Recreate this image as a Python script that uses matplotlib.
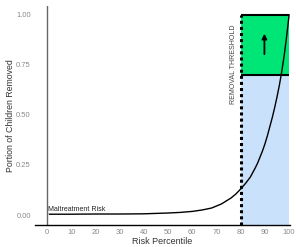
import matplotlib.pyplot as plt

plt.rcParams['font.family'] = ['Liberation Sans', 'DejaVu Sans']

# maltreatment risk curve
risk_pct = [1, 10, 20, 30, 40, 50, 55, 60, 64, 68, 72, 76, 78, 80, 82, 84,
            86, 87, 88, 89, 90, 91, 92, 93, 94, 95, 96, 97, 98, 99, 100]
removed = [0.004, 0.004, 0.005, 0.005, 0.006, 0.010, 0.013, 0.018, 0.025,
           0.035, 0.055, 0.085, 0.105, 0.13, 0.158, 0.19, 0.235, 0.26, 0.29,
           0.32, 0.355, 0.395, 0.44, 0.485, 0.535, 0.59, 0.65, 0.72, 0.80,
           0.895, 1.0]

threshold = 80
cut_level = 0.7
x_ticks = [0, 10, 20, 30, 40, 50, 60, 70, 80, 90, 100]
y_ticks = [0.0, 0.25, 0.5, 0.75, 1.0]

fig = plt.figure(figsize=(2.96, 2.47), dpi=100)
ax = fig.add_axes([0.118, 0.089, 0.862, 0.887])

# shaded regions
ax.fill_between([threshold, 100], -0.05, cut_level, color='#c9e1fb', lw=0)
ax.fill_between([threshold, 100], cut_level, 1.0, color='#00e676', lw=0)
ax.hlines([cut_level, 1.0], threshold, 100, color='black', lw=1.5)

ax.axvline(0, color='#666666', lw=1)
ax.vlines(threshold, -0.05, 1.0, color='black', lw=2.2, linestyles=[(0, (1, 1))])

ax.plot(risk_pct, removed, color='black', lw=1)

ax.annotate('', xy=(89.8, 0.92), xytext=(89.8, 0.79),
            arrowprops=dict(arrowstyle='-|>', color='black', lw=1.3, mutation_scale=7))

ax.text(0.4, 0.03, 'Maltreatment Risk', fontsize=5, color='#222222', va='center', ha='left')
ax.text(77, 0.95, 'REMOVAL THRESHOLD', fontsize=5, color='#444444', rotation=90,
        va='top', ha='center')

ax.set_xlim(-5, 100.4)
ax.set_ylim(-0.05, 1.045)
ax.set_xticks(x_ticks)
ax.set_yticks(y_ticks)
ax.set_yticklabels([f'{v:.2f}' for v in y_ticks])
ax.tick_params(length=0, labelsize=5.5, colors='#8a8a8a', pad=3)

for s in ['top', 'right', 'left']:
    ax.spines[s].set_visible(False)
ax.spines['bottom'].set_linewidth(1)

ax.set_xlabel('Risk Percentile', fontsize=6.5, color='#333333', labelpad=0.5)
ax.set_ylabel('Portion of Children Removed', fontsize=6.3, color='#333333', labelpad=1)

fig.savefig('out.png', dpi=100)
